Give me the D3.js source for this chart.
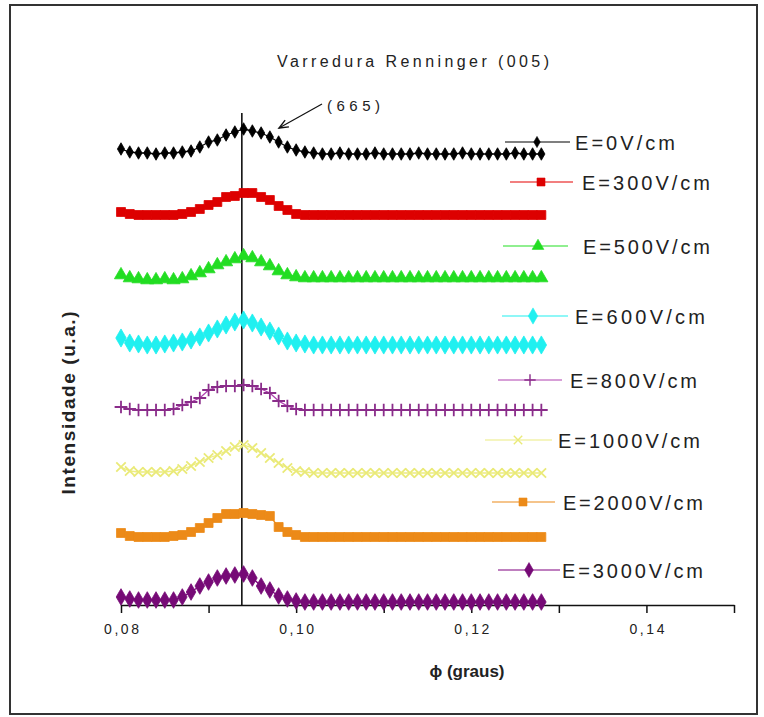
<!DOCTYPE html>
<html>
<head>
<meta charset="utf-8">
<script src="https://cdn.jsdelivr.net/npm/d3@7"></script>
<style>
  html, body { margin: 0; padding: 0; background: #fff; }
  svg { display: block; }
  text { font-family: "Liberation Sans", Arial, sans-serif; fill: #222; }
</style>
</head>
<body>
<svg id="chart" width="764" height="717"></svg>
<script>
// ---------------- data ----------------
const phi = [0.080,0.081,0.082,0.083,0.084,0.085,0.086,0.087,0.088,0.089,
             0.090,0.091,0.092,0.093,0.094,0.095,0.096,0.097,0.098,0.099,
             0.100,0.101,0.102,0.103,0.104,0.105,0.106,0.107,0.108,0.109,
             0.110,0.111,0.112,0.113,0.114,0.115,0.116,0.117,0.118,0.119,
             0.120,0.121,0.122,0.123,0.124,0.125,0.126,0.127,0.128];

const seriesNames = ["E=0V/cm","E=300V/cm","E=500V/cm","E=600V/cm","E=800V/cm","E=1000V/cm","E=2000V/cm","E=3000V/cm"];

const E0 = [45.6,45.3,45.2,45.2,45.1,45.2,45.2,45.3,45.4,45.8,46.3,46.5,47.0,47.3,47.6,47.4,47.2,46.8,46.3,45.8,45.5,45.3,45.2,
            45.1,45.1,45.2,45.1,45.1,45.1,45.2,45.1,45.1,45.1,45.1,45.2,45.1,45.1,45.1,45.1,45.2,45.1,45.1,45.1,45.1,45.1,45.2,45.1,45.1,45.1];
const E300 = [39.3,39.1,39.0,39.0,39.0,39.0,39.0,39.1,39.3,39.6,40.0,40.3,40.8,40.9,41.2,41.2,40.8,40.5,39.9,39.5,39.1,39.0,39.0,
              39.0,39.0,39.0,39.0,39.0,39.0,39.0,39.0,39.0,39.0,39.0,39.0,39.0,39.0,39.0,39.0,39.0,39.0,39.0,39.0,39.0,39.0,39.0,39.0,39.0,39.0];
const E500 = [33.0,32.7,32.6,32.5,32.5,32.6,32.5,32.6,32.9,33.2,33.6,34.0,34.3,34.6,34.9,34.7,34.3,33.9,33.4,33.0,32.8,32.7,32.7,
              32.7,32.7,32.7,32.7,32.7,32.7,32.7,32.7,32.7,32.7,32.7,32.7,32.7,32.7,32.7,32.7,32.7,32.7,32.7,32.7,32.7,32.7,32.7,32.7,32.7,32.7];
const E600 = [26.7,26.2,26.1,26.0,26.0,26.1,26.2,26.3,26.5,26.8,27.2,27.6,28.0,28.3,28.5,28.2,27.8,27.4,26.9,26.4,26.2,26.1,26.0,
              26.0,26.0,26.0,26.0,26.0,26.0,26.0,26.0,26.0,26.0,26.0,26.0,26.0,26.0,26.0,26.0,26.0,26.0,26.0,26.0,26.0,26.0,26.0,26.0,26.0,26.0];
const E800 = [19.8,19.6,19.5,19.5,19.5,19.5,19.6,20.0,20.3,20.7,21.5,21.8,21.9,21.9,22.0,21.9,21.6,21.2,20.4,19.9,19.6,19.5,19.5,
              19.5,19.5,19.5,19.5,19.5,19.5,19.5,19.5,19.5,19.5,19.5,19.5,19.5,19.5,19.5,19.5,19.5,19.5,19.5,19.5,19.5,19.5,19.5,19.5,19.5,19.5];
const E1000 = [13.8,13.4,13.3,13.3,13.3,13.3,13.4,13.6,13.9,14.3,14.7,15.0,15.4,15.8,16.0,15.7,15.2,14.7,14.2,13.7,13.4,13.3,13.2,
               13.2,13.2,13.2,13.2,13.2,13.2,13.2,13.2,13.2,13.2,13.2,13.2,13.2,13.2,13.2,13.2,13.2,13.2,13.2,13.2,13.2,13.2,13.2,13.2,13.2,13.2];
const E2000 = [7.2,6.9,6.8,6.8,6.8,6.8,6.9,7.0,7.3,7.7,8.2,8.7,9.1,9.1,9.2,9.1,9.0,8.9,7.8,7.3,7.0,6.8,6.8,
               6.8,6.8,6.8,6.8,6.8,6.8,6.8,6.8,6.8,6.8,6.8,6.8,6.8,6.8,6.8,6.8,6.8,6.8,6.8,6.8,6.8,6.8,6.8,6.8,6.8,6.8];
const E3000 = [0.8,0.6,0.5,0.5,0.5,0.5,0.5,0.8,1.3,1.9,2.3,2.7,2.9,3.0,3.1,2.7,1.9,1.5,0.9,0.6,0.4,0.3,0.3,
               0.3,0.3,0.3,0.3,0.3,0.3,0.3,0.3,0.3,0.3,0.3,0.3,0.3,0.3,0.3,0.3,0.3,0.3,0.3,0.3,0.3,0.3,0.3,0.3,0.3,0.3];

const xTicks = [0.08,0.09,0.10,0.11,0.12,0.13,0.14,0.15];
const xTickLabels = ["0,08","","0,10","","0,12","","0,14",""];
const peakPhi = 0.0938;   // position of the (665) reference line
const peakLabel = "(665)";
const titleText = "Varredura Renninger (005)";
const xTitle = "\u03D5 (graus)";
const yTitle = "Intensidade (u.a.)";

// ---------------- styles ----------------
const allSeries = [E0,E300,E500,E600,E800,E1000,E2000,E3000];
const colors = ["#000000","#e60000","#22e022","#20f0f0","#b040b0","#ecec80","#ec8a18","#800080"];
const markerColors = ["#000000","#dd0000","#22dd22","#20f0f0","#8a2c8a","#eaea78","#ec8a18","#760a76"];
const symbols = [d3.symbolDiamond,d3.symbolSquare,d3.symbolTriangle,d3.symbolDiamond,d3.symbolPlus,d3.symbolX,d3.symbolSquare,d3.symbolDiamond];
const symSizes = [45,80,75,95,55,60,80,80];
const stroked = [false,false,false,false,true,true,false,false];

// legend layout (line start, line end, marker x, text x, text width, center y)
const legendLayout = [
  [505,570,537,575,100,142],
  [510,573,541,582,128,182],
  [503,568,538,583,127,246],
  [502,568,533,575,130,316],
  [498,562,530,570,127,380],
  [485,552,518,558,142,440],
  [492,555,523,563,140,502],
  [498,560,529,562,141,570]
];

// ---------------- drawing ----------------
const svg = d3.select("#chart");
svg.append("rect").attr("x",0).attr("y",0).attr("width",764).attr("height",717).attr("fill","#fff");
svg.append("rect").attr("x",10).attr("y",5).attr("width",747).attr("height",709)
   .attr("fill","none").attr("stroke","#333").attr("stroke-width",2);

const x = d3.scaleLinear().domain([0.08,0.15]).range([121,734]);
const y = d3.scaleLinear().domain([0,50]).range([605,105]);

// x axis
const xAxis = d3.axisBottom(x).tickValues(xTicks).tickSize(8).tickSizeOuter(0)
  .tickFormat((d,i) => xTickLabels[i]);
const gx = svg.append("g").attr("transform",`translate(0,${y(0)})`).call(xAxis);
gx.select(".domain").attr("stroke","#111").attr("stroke-width",1.5);
gx.selectAll(".tick line").attr("stroke","#111").attr("stroke-width",1.5);
gx.selectAll(".tick text")
  .attr("y",19).attr("dy","0.71em")
  .style("font-family","'Liberation Sans', Arial, sans-serif")
  .style("font-size","14px").attr("fill","#222")
  .each(function(d,i){ if (xTickLabels[i]) d3.select(this).attr("textLength",35).attr("lengthAdjust","spacing"); });

// reference vertical line
svg.append("line").attr("x1",x(peakPhi)).attr("x2",x(peakPhi))
   .attr("y1",113).attr("y2",y(0)).attr("stroke","#000").attr("stroke-width",1.5);

// series
allSeries.forEach((vals,si) => {
  const pts = phi.map((p,i) => [x(p), y(vals[i])]);
  svg.append("path").attr("d", d3.line()(pts)).attr("fill","none")
     .attr("stroke",colors[si]).attr("stroke-width",1.3);
  const sym = d3.symbol().type(symbols[si]).size(symSizes[si]);
  svg.append("g").selectAll("path").data(pts).join("path")
     .attr("transform",d => `translate(${d[0]},${d[1]})`)
     .attr("d",sym)
     .attr("fill", stroked[si] ? "none" : markerColors[si])
     .attr("stroke", markerColors[si])
     .attr("stroke-width", stroked[si] ? 1.8 : 0.8);
});

// legend
legendLayout.forEach((L,si) => {
  const [x1,x2,mx,tx,tw,cy] = L;
  const g = svg.append("g");
  g.append("line").attr("x1",x1).attr("x2",x2).attr("y1",cy).attr("y2",cy)
   .attr("stroke",colors[si]).attr("stroke-width",1.2);
  g.append("path").attr("transform",`translate(${mx},${cy})`)
   .attr("d", d3.symbol().type(symbols[si]).size(symSizes[si]*0.8)())
   .attr("fill", stroked[si] ? "none" : markerColors[si])
   .attr("stroke", markerColors[si]).attr("stroke-width", stroked[si] ? 1.4 : 0.6);
  g.append("text").attr("x",tx).attr("y",cy+7.5)
   .attr("textLength",tw).attr("lengthAdjust","spacing")
   .style("font-size","20px").text(seriesNames[si]);
});

// title
svg.append("text").attr("x",277).attr("y",67).attr("textLength",272).attr("lengthAdjust","spacing")
   .style("font-size","16px").text(titleText);

// peak annotation
svg.append("text").attr("x",327).attr("y",111).attr("textLength",53).attr("lengthAdjust","spacing")
   .style("font-size","15px").text(peakLabel);
const ax1 = 322, ay1 = 104, ax2 = 279, ay2 = 128;
svg.append("line").attr("x1",ax1).attr("y1",ay1).attr("x2",ax2).attr("y2",ay2)
   .attr("stroke","#111").attr("stroke-width",1.2);
const ang = Math.atan2(ay1-ay2, ax1-ax2);
const hl = 10, hw = 0.4;
svg.append("path")
   .attr("d", `M${ax2+hl*Math.cos(ang-hw)},${ay2+hl*Math.sin(ang-hw)} L${ax2},${ay2} L${ax2+hl*Math.cos(ang+hw)},${ay2+hl*Math.sin(ang+hw)}`)
   .attr("fill","none").attr("stroke","#111").attr("stroke-width",1.4);

// axis titles
svg.append("text").attr("x",467).attr("y",677).attr("text-anchor","middle")
   .style("font-size","17px").style("font-weight","bold").attr("fill","#111").text(xTitle);
svg.append("text").attr("transform","translate(75,403) rotate(-90)").attr("text-anchor","middle")
   .attr("textLength",183).attr("lengthAdjust","spacing")
   .style("font-size","19px").style("font-weight","bold").attr("fill","#111").text(yTitle);
</script>
</body>
</html>
